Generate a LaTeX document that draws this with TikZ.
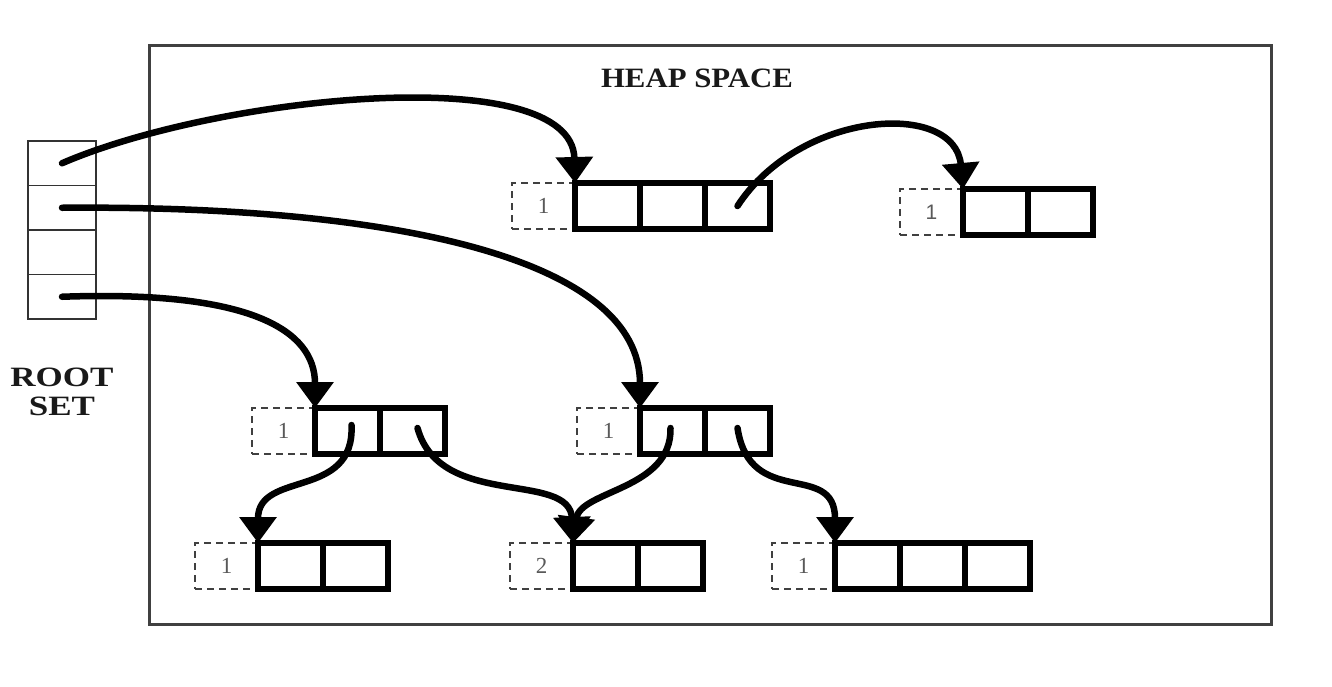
\documentclass[tikz,border=0pt]{standalone}
\usepackage{fontspec}
\setmainfont{Liberation Serif}
\newfontfamily\cntsans{Liberation Sans}
\usetikzlibrary{arrows.meta,calc}
\tikzset{
  cell/.style={draw, line width=6pt, minimum width=65pt, minimum height=46pt, inner sep=0pt, outer sep=0pt},
  cnt/.style={draw=black!75, dashed, dash pattern=on 7pt off 5pt, line width=2pt, minimum width=63pt, minimum height=46pt, inner sep=0pt, outer sep=0pt, text=black!65},
  rootcell/.style={draw=black!80, line width=1.6pt, minimum width=68pt, minimum height=44.5pt, inner sep=0pt, outer sep=0pt},
  ptr/.style={line width=6.5pt, line cap=round, -{Triangle[length=26pt,width=36pt]}},
  heap/.style={draw=black!75, line width=2.5pt},
  lbl/.style={font=\fontsize{28}{29}\selectfont\bfseries, text=black!90, inner sep=0pt}
}
\newcommand\heapobj[6]{% name, x, y(top), ncells, count, font
  \node[cnt, anchor=north east, font=#6] (#1-c) at (#2,#3) {#5};
  \foreach \i in {1,...,#4} {
    \node[cell, anchor=north west] (#1-\i) at ({#2+(\i-1)*65},#3) {};
  }
}
\begin{document}
\begin{tikzpicture}[x=1pt,y=-1pt]
\useasboundingbox (0,0) rectangle (1332,686);
% heap space frame
\node[heap, minimum width=1122pt, minimum height=579pt, inner sep=0pt, anchor=north west] (heapbox) at (148,44) {};
\node[lbl] (heaplbl) at (697,78) {\scalebox{1.1}[1]{HEAP SPACE}};
% root set
\foreach \i in {1,...,4} {
  \node[rootcell, anchor=north west] (root-\i) at (28,{141+(\i-1)*44.5}) {};
}
\node[lbl, align=center] (rootlbl) at (62,392) {\scalebox{1.25}[1]{ROOT}\\[0pt]\scalebox{1.25}[1]{SET}};
% objects
\heapobj{A}{575}{183}{3}{1}{\fontsize{23}{24}\selectfont}
\heapobj{B}{963}{189}{2}{1}{\fontsize{21}{24}\selectfont\cntsans\color{black!90}}
\heapobj{C}{315}{408}{2}{1}{\fontsize{23}{24}\selectfont}
\heapobj{D}{640}{408}{2}{1}{\fontsize{23}{24}\selectfont}
\heapobj{E}{258}{543}{2}{1}{\fontsize{23}{24}\selectfont}
\heapobj{F}{573}{543}{2}{2}{\fontsize{23}{24}\selectfont}
\heapobj{G}{835}{543}{3}{1}{\fontsize{23}{24}\selectfont}
% pointers
\draw[ptr] (root-1.center) .. controls (220,95) and (572,60) .. (A-1.north west);
\draw[ptr] (root-2.center) .. controls (400,205) and (640,260) .. (D-1.north west);
\draw[ptr] (root-4.center) .. controls (250,290) and (315,330) .. (C-1.north west);
\draw[ptr] (A-3.center) .. controls (800,110) and (955,100) .. (B-1.north west);
\draw[ptr] ($(C-1.center)+(4,-6)$) .. controls (355,500) and (258,470) .. (E-1.north west);
\draw[ptr] ($(C-2.center)+(5,-3)$) .. controls (440,510) and (570,470) .. (F-1.north west);
\draw[ptr] ($(D-1.center)+(-2,-3)$) .. controls (672,490) and (580,490) .. (F-1.north west);
\draw[ptr] ($(D-2.center)+(0,-3)$) .. controls (750,510) and (835,460) .. (G-1.north west);
\end{tikzpicture}
\end{document}
